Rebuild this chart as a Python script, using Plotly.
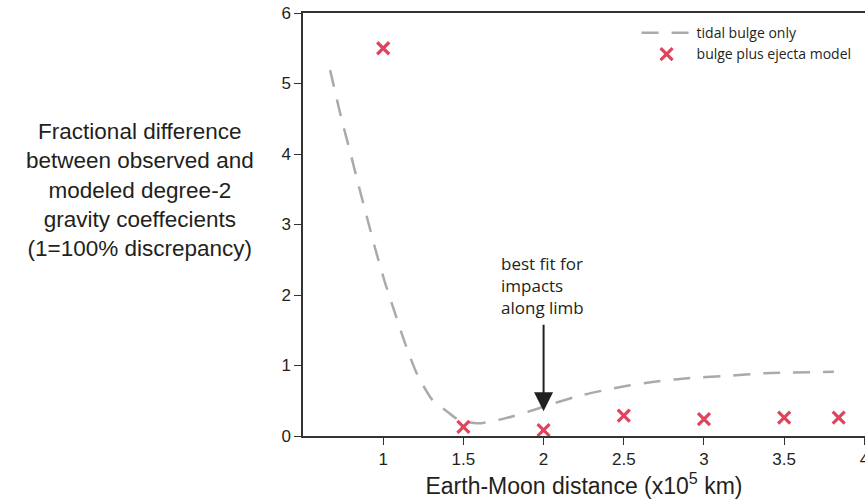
import plotly.graph_objects as go

# tidal bulge only (dashed curve)
curve_x = [0.669, 0.742, 0.794, 0.846, 0.898, 0.95, 1.012, 1.074, 1.137, 1.209, 1.30, 1.386, 1.469,
           1.593, 1.76, 1.967, 2.03, 2.24, 2.49, 2.69, 2.90, 3.13, 3.38, 3.81]
curve_y = [5.19, 4.48, 4.03, 3.56, 3.11, 2.66, 2.17, 1.74, 1.31, 0.89, 0.53, 0.37, 0.23,
           0.18, 0.25, 0.39, 0.44, 0.58, 0.70, 0.77, 0.82, 0.85, 0.89, 0.91]

# bulge plus ejecta model (x markers)
model_x = [1.0, 1.5, 2.0, 2.5, 3.0, 3.5, 3.84]
model_y = [5.50, 0.13, 0.085, 0.29, 0.24, 0.26, 0.26]

x_ticks = [1, 1.5, 2, 2.5, 3, 3.5, 4]
x_ticklabels = ["1", "1.5", "2", "2.5", "3", "3.5", "4"]
y_ticks = [0, 1, 2, 3, 4, 5, 6]

TEXT = "#231f20"
AX = "#333333"
RED = "#e0435c"

fig = go.Figure()
fig.add_trace(go.Scatter(
    x=curve_x, y=curve_y, mode="lines", name="tidal bulge only",
    line=dict(color="#aaaaaa", width=2.5, dash="17px,13px", shape="spline", smoothing=0.6),
))
fig.add_trace(go.Scatter(
    x=model_x, y=model_y, mode="markers", name="bulge plus ejecta model",
    marker=dict(symbol="x-thin", size=12, line=dict(color=RED, width=3.2), color=RED),
))

fig.add_annotation(
    x=2.0, y=0.35, ax=2.0, ay=1.6, xref="x", yref="y", axref="x", ayref="y",
    text="", showarrow=True, arrowhead=2, arrowsize=1.9, arrowwidth=2, arrowcolor=TEXT,
)
fig.add_annotation(
    x=1.724, y=2.13, xref="x", yref="y", xanchor="left", yanchor="middle", align="left",
    text="best fit for<br>impacts<br>along limb", showarrow=False,
    font=dict(family="Open Sans", size=17, color=TEXT),
)
fig.add_annotation(
    x=-0.290, y=3.49, xref="paper", yref="y", xanchor="center", yanchor="middle", align="center",
    text="Fractional difference<br>between observed and<br>modeled degree-2<br>gravity coeffecients<br>(1=100% discrepancy)",
    showarrow=False, font=dict(family="Liberation Sans", size=22.5, color=TEXT),
)

fig.update_layout(
    width=865, height=502,
    margin=dict(l=303, r=0, t=13, b=66),
    paper_bgcolor="white", plot_bgcolor="white",
    showlegend=True,
    legend=dict(
        x=0.985, y=0.99, xanchor="right", yanchor="top",
        font=dict(family="Open Sans", size=14, color=TEXT),
        bgcolor="rgba(0,0,0,0)", itemwidth=50, tracegroupgap=0,
    ),
    xaxis=dict(
        range=[0.5, 4.004], tickvals=x_ticks, ticktext=x_ticklabels, automargin=False,
        ticklabeloverflow="allow",
        showline=True, linecolor=AX, linewidth=1.5, mirror=True,
        ticks="outside", ticklen=7, tickcolor=AX, tickwidth=1.2,
        showgrid=False, zeroline=False,
        tickfont=dict(family="Liberation Sans", size=17, color=TEXT),
        title=dict(text="Earth-Moon distance (x10<sup>5</sup> km)", standoff=8,
                   font=dict(family="Liberation Sans", size=23, color=TEXT)),
    ),
    yaxis=dict(
        range=[0, 6], tickvals=y_ticks, automargin=False,
        ticklabeloverflow="allow",
        showline=True, linecolor=AX, linewidth=1.5,
        ticks="outside", ticklen=7, tickcolor=AX, tickwidth=1.2,
        showgrid=False, zeroline=False,
        tickfont=dict(family="Liberation Sans", size=17, color=TEXT),
    ),
)

# remove the browser's default 8px body margin so the figure fills the window exactly
fig.write_html(
    "out.html",
    config={"displayModeBar": False},
    post_script="document.body.style.margin='0';document.body.style.overflow='hidden';",
)
